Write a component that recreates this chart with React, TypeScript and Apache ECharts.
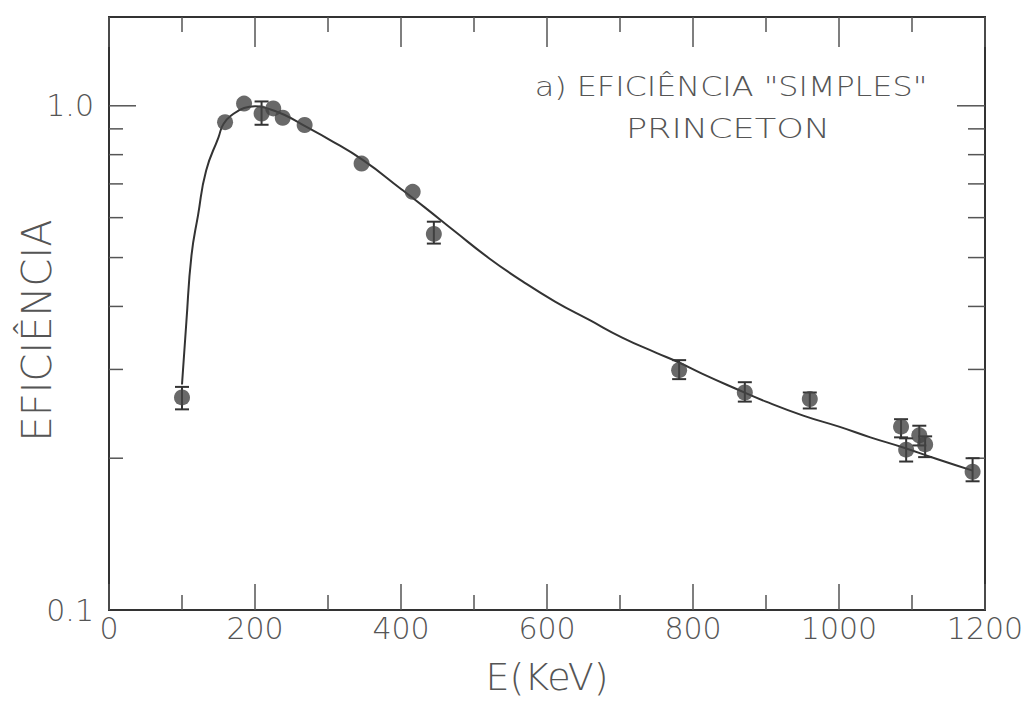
import React, { useEffect, useRef } from "react";
import * as echarts from "echarts";

// Measured efficiency points (energy in keV)
const energies = [100, 159, 185, 209, 225, 238, 268, 346, 416, 445, 781, 871, 960, 1085, 1092, 1110, 1118, 1183];
const efficiency = [0.264, 0.928, 1.01, 0.965, 0.988, 0.947, 0.916, 0.768, 0.675, 0.557, 0.299, 0.27, 0.262, 0.231, 0.208, 0.222, 0.213, 0.188];
// Error bar limits (null where the bar is hidden inside the marker)
const errLow = [0.25, null, null, 0.917, null, null, null, null, null, 0.533, 0.287, 0.259, 0.251, 0.22, 0.197, 0.212, 0.201, 0.18];
const errHigh = [0.277, null, null, 1.02, null, null, null, null, null, 0.589, 0.313, 0.283, 0.27, 0.239, 0.219, 0.232, 0.221, 0.2];

// Fitted efficiency curve
const fitEnergy = [100, 106, 113, 122, 133, 150, 157, 170, 185, 200, 215, 240, 268, 300, 348, 400, 433, 474, 521, 566, 611, 658, 703, 749, 780, 813, 858, 900, 951, 1000, 1043, 1088, 1133, 1183];
const fitEfficiency = [0.28, 0.373, 0.505, 0.607, 0.743, 0.866, 0.921, 0.963, 0.99, 0.998, 0.99, 0.96, 0.912, 0.86, 0.78, 0.684, 0.628, 0.563, 0.498, 0.449, 0.409, 0.376, 0.347, 0.324, 0.31, 0.294, 0.275, 0.259, 0.243, 0.231, 0.22, 0.21, 0.1995, 0.189];

// Inner tick marks on the logarithmic efficiency axis
const yTickValues = [0.2, 0.3, 0.4, 0.5, 0.6, 0.7, 0.8, 0.9, 1.0];

const X_MIN = 0;
const X_MAX = 1200;
const Y_MIN = 0.1;
const Y_MAX = 1.5;

const INK = "#333";
const TEXT = "#555";
const FONT = "'DejaVu Sans', sans-serif";

export default function App() {
  const ref = useRef<HTMLDivElement>(null);

  useEffect(() => {
    if (!ref.current) return;
    const chart = echarts.init(ref.current, null, { renderer: "svg" });

    const points = energies.map((e, i) => [e, efficiency[i]]);
    const bars = energies
      .map((e, i) => [e, errLow[i], errHigh[i]])
      .filter((d) => d[1] != null && d[2] != null);
    const fit = fitEnergy.map((e, i) => [e, fitEfficiency[i]]);
    const ticks = yTickValues.map((v) => [X_MIN, v]);

    const tickStyle = { color: "#555", width: 1.5 };

    chart.setOption({
      animation: false,
      backgroundColor: "#fff",
      grid: {
        left: 109,
        right: 38,
        top: 17,
        bottom: 92,
        outerBoundsMode: "none",
        containLabel: false,
        show: true,
        borderColor: INK,
        borderWidth: 2,
      },
      xAxis: [
        {
          type: "value",
          position: "bottom",
          min: X_MIN,
          max: X_MAX,
          interval: 200,
          axisLine: { show: false },
          axisTick: { show: true, inside: true, length: 26, lineStyle: tickStyle },
          minorTick: { show: true, splitNumber: 2, length: 15, lineStyle: tickStyle },
          splitLine: { show: false },
          axisLabel: {
            margin: 3,
            fontFamily: FONT,
            fontWeight: 200,
            fontSize: 30,
            color: TEXT,
            formatter: (v: number) => String(v),
          },
          name: "E(KeV)",
          nameLocation: "middle",
          nameGap: 48,
          nameMoveOverlap: false,
          nameTextStyle: { fontFamily: FONT, fontWeight: 200, fontSize: 38, color: TEXT },
        },
        {
          type: "value",
          position: "top",
          min: X_MIN,
          max: X_MAX,
          interval: 200,
          axisLine: { show: false },
          axisTick: { show: true, inside: true, length: 30, lineStyle: tickStyle },
          minorTick: { show: true, splitNumber: 2, length: 15, lineStyle: tickStyle },
          splitLine: { show: false },
          axisLabel: { show: false },
        },
      ],
      yAxis: [
        {
          type: "log",
          logBase: 10,
          min: Y_MIN,
          max: Y_MAX,
          axisLine: { show: false },
          axisTick: { show: false },
          splitLine: { show: false },
          axisLabel: {
            margin: 15,
            fontFamily: FONT,
            fontWeight: 200,
            fontSize: 30,
            color: TEXT,
            formatter: (v: number) => {
              if (Math.abs(v - 1) < 1e-6) return "1.0";
              if (Math.abs(v - 0.1) < 1e-6) return "0.1";
              return "";
            },
          },
          name: "EFICIÊNCIA",
          nameLocation: "middle",
          nameGap: 52,
          nameRotate: 90,
          nameMoveOverlap: false,
          nameTextStyle: {
            fontFamily: FONT,
            fontWeight: 200,
            fontSize: 40,
            color: TEXT,
            padding: [0, 34, 0, 0],
          },
        },
      ],
      graphic: [
        {
          type: "text",
          x: 731,
          y: 87,
          scaleX: 1.18,
          style: {
            text: 'a) EFICIÊNCIA "SIMPLES"',
            fontFamily: FONT,
            fontWeight: 200,
            fontSize: 27,
            fill: TEXT,
            align: "center",
            verticalAlign: "middle",
          },
        },
        {
          type: "text",
          x: 728,
          y: 129,
          scaleX: 1.3,
          style: {
            text: "PRINCETON",
            fontFamily: FONT,
            fontWeight: 200,
            fontSize: 27,
            fill: TEXT,
            align: "center",
            verticalAlign: "middle",
          },
        },
      ],
      series: [
        {
          // inner ticks on left and right frame edges
          type: "custom",
          xAxisIndex: 0,
          yAxisIndex: 0,
          data: ticks,
          encode: { x: 0, y: 1 },
          silent: true,
          z: 2,
          renderItem: (params: any, api: any) => {
            const v = api.value(1);
            const l = api.coord([X_MIN, v]);
            const r = api.coord([X_MAX, v]);
            const major = Math.abs(v - 1) < 1e-6;
            const ll = major ? 27 : 14;
            const rl = major ? 28 : 17;
            return {
              type: "group",
              children: [
                { type: "line", shape: { x1: l[0], y1: l[1], x2: l[0] + ll, y2: l[1] }, style: { stroke: "#555", lineWidth: 1.5 } },
                { type: "line", shape: { x1: r[0], y1: r[1], x2: r[0] - rl, y2: r[1] }, style: { stroke: "#555", lineWidth: 1.5 } },
              ],
            };
          },
        },
        {
          type: "line",
          xAxisIndex: 0,
          yAxisIndex: 0,
          data: fit,
          showSymbol: false,
          smooth: 0.5,
          lineStyle: { color: INK, width: 2 },
          z: 3,
        },
        {
          // error bars
          type: "custom",
          xAxisIndex: 0,
          yAxisIndex: 0,
          data: bars,
          encode: { x: 0, y: [1, 2] },
          z: 4,
          renderItem: (params: any, api: any) => {
            const x = api.value(0);
            const lo = api.coord([x, api.value(1)]);
            const hi = api.coord([x, api.value(2)]);
            const cap = 7;
            const st = { stroke: "#333", lineWidth: 2 };
            return {
              type: "group",
              children: [
                { type: "line", shape: { x1: lo[0], y1: lo[1], x2: hi[0], y2: hi[1] }, style: st },
                { type: "line", shape: { x1: lo[0] - cap, y1: lo[1], x2: lo[0] + cap, y2: lo[1] }, style: st },
                { type: "line", shape: { x1: hi[0] - cap, y1: hi[1], x2: hi[0] + cap, y2: hi[1] }, style: st },
              ],
            };
          },
        },
        {
          type: "scatter",
          xAxisIndex: 0,
          yAxisIndex: 0,
          data: points,
          symbol: "circle",
          symbolSize: 16,
          itemStyle: { color: "#444" },
          z: 5,
        },
      ],
    });

    return () => chart.dispose();
  }, []);

  return (
    <div
      ref={ref}
      style={{ position: "fixed", left: 0, top: 0, width: 1023, height: 702, background: "#fff" }}
    />
  );
}
